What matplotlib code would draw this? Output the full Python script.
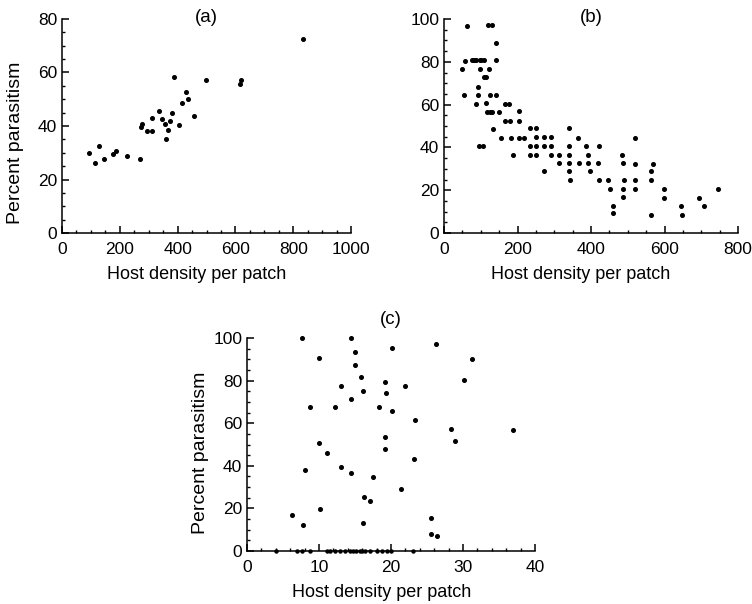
import numpy as np
import matplotlib
matplotlib.use('Agg')
import matplotlib.pyplot as plt
from matplotlib.ticker import MultipleLocator

plt.rcParams['font.family'] = ['Liberation Sans', 'DejaVu Sans']

# panel (a)
a_x = [92, 114, 128, 145, 176, 187, 224, 270, 273, 277, 295, 313, 313, 334, 346,
       358, 360, 366, 374, 381, 386, 406, 415, 429, 435, 456, 497, 617, 620, 835]
a_y = [29.9, 26.2, 32.6, 27.7, 29.7, 30.7, 28.7, 27.7, 39.5, 40.6, 38.3, 38.3, 43, 45.5, 42.6,
       40.7, 35.3, 38.6, 41.7, 44.9, 58.3, 40.5, 48.5, 52.8, 50.1, 43.6, 57.3, 55.7, 57.1, 72.4]

# panel (b)
b_x = [49, 55, 58, 62, 77, 82, 86, 97, 102, 108, 99, 93, 93, 87, 95, 106,
       108, 113, 113, 117, 124, 131, 123, 126, 121, 131, 132, 142, 142, 142,
       151, 155, 165, 177, 165, 179, 183, 189, 203, 203, 203, 219,
       235, 235, 235, 251, 251, 251, 251, 272, 272, 272, 292, 292, 292,
       313, 313, 340, 340, 340, 340, 340, 342, 365, 367, 387, 393, 393, 397,
       419, 423, 423, 445, 453, 459, 460, 484, 486, 488, 488, 490,
       520, 521, 521, 521, 562, 562, 564, 569, 599, 599, 646, 647, 693, 707, 746]
b_y = [76.6, 64.3, 80.4, 96.6, 81, 81, 81, 81, 81, 81, 76.6, 68.2, 64.6, 60.4, 40.5, 40.5,
       72.7, 72.7, 60.7, 56.4, 56.4, 56.4, 76.6, 64.6, 97, 97, 48.6, 89, 81, 64.6,
       56.4, 44.2, 60.4, 60.4, 52.5, 52.5, 44.4, 36.6, 56.9, 52.5, 44.4, 44.4,
       48.9, 40.5, 36.6, 48.9, 44.7, 40.5, 36.6, 44.7, 40.5, 28.8, 44.7, 40.5, 36.6,
       36.6, 32.7, 48.9, 40.5, 36.6, 32.7, 28.8, 24.9, 44.5, 32.7, 40.5, 36.6, 32.7, 28.8,
       32.7, 40.5, 24.9, 24.9, 20.5, 12.6, 9.2, 36.6, 20.4, 32.7, 16.7, 24.9,
       44.4, 32.4, 24.9, 20.4, 28.8, 24.9, 8.6, 32.4, 20.4, 16.5, 12.8, 8.6, 16.5, 12.5, 20.4]

# panel (c)
c_x = [6.2, 7.6, 7.8, 8.1, 8.8, 10.0, 10.0, 10.1, 11.1, 12.2, 13.1, 13.1, 14.4, 14.4,
       14.5, 15.0, 15.0, 15.8, 16.1, 16.2, 16.1, 17.1, 17.5, 18.3, 19.2, 19.3, 19.2,
       19.2, 20.1, 20.2, 21.4, 21.9, 23.2, 23.4, 25.5, 25.5, 26.3, 26.4, 28.3, 28.9,
       30.1, 31.2, 36.9]
c_y = [17.1, 100, 12.4, 38, 67.5, 90.6, 50.9, 19.9, 46, 67.5, 77.6, 39.6, 71.4, 36.7,
       100, 93.2, 87.1, 81.5, 75.2, 25.4, 13.3, 23.5, 34.9, 67.5, 79.4, 74.1, 53.4,
       47.9, 95.1, 65.6, 29.2, 77.6, 43.3, 61.4, 15.7, 8.2, 97, 7.2, 57.1, 51.8,
       80.1, 90.3, 57]
c_zero_x = [4.0, 6.9, 7.7, 8.8, 11.1, 11.5, 12.2, 12.9, 13.6, 14.3, 14.7, 15.1, 15.7,
            16.0, 16.4, 17.1, 18.0, 18.7, 19.4, 20.0, 23.0]

W, H = 752, 604
fig = plt.figure(figsize=(W / 100, H / 100), dpi=100)

TICK_FS = 12.5


def make_ax(l, r, t, b):
    return fig.add_axes([l / W, 1 - b / H, (r - l) / W, (b - t) / H])


def style(ax, xmax, ymax, xmaj, xmin, ymaj, ymin):
    ax.set_xlim(0, xmax)
    ax.set_ylim(0, ymax)
    ax.xaxis.set_major_locator(MultipleLocator(xmaj))
    ax.xaxis.set_minor_locator(MultipleLocator(xmin))
    ax.yaxis.set_major_locator(MultipleLocator(ymaj))
    ax.yaxis.set_minor_locator(MultipleLocator(ymin))
    for s in ['top', 'right']:
        ax.spines[s].set_visible(False)
    for s in ['left', 'bottom']:
        ax.spines[s].set_linewidth(1.1)
    ax.tick_params(which='major', direction='in', length=5, width=1.1, labelsize=TICK_FS)
    ax.tick_params(axis='x', which='major', pad=6.5)
    ax.tick_params(axis='y', which='major', pad=3.5)
    ax.tick_params(which='minor', direction='in', length=2.5, width=1.0)
    ax.set_xlabel('Host density per patch', fontsize=13)
    ax.xaxis.set_label_coords(0.466, -0.155)


def ylab(ax, yc):
    ax.set_ylabel('Percent parasitism', fontsize=14)
    ax.yaxis.set_label_coords(-0.132, yc)


ax_a = make_ax(62, 351, 19, 233)
ax_a.plot(a_x, a_y, 'o', color='black', markersize=2.6, clip_on=False)
style(ax_a, 1000, 80, 200, 50, 20, 5)
ylab(ax_a, 0.42)
ax_a.text(0.5, 1.005, '(a)', transform=ax_a.transAxes, ha='center', va='center', fontsize=13.5)

ax_b = make_ax(444, 738, 19, 233)
ax_b.plot(b_x, b_y, 'o', color='black', markersize=2.6, clip_on=False)
style(ax_b, 800, 100, 200, 50, 20, 5)
ax_b.text(0.5, 1.005, '(b)', transform=ax_b.transAxes, ha='center', va='center', fontsize=13.5)

ax_c = make_ax(247, 535, 338, 551)
ax_c.plot(c_x, c_y, 'o', color='black', markersize=2.6, clip_on=False)
ax_c.plot(c_zero_x, np.zeros(len(c_zero_x)), 'o', color='black', markersize=2.2, clip_on=False)
style(ax_c, 40, 100, 10, 2, 20, 5)
ylab(ax_c, 0.46)
ax_c.text(0.5, 1.085, '(c)', transform=ax_c.transAxes, ha='center', va='center', fontsize=13.5)

fig.savefig('out.png', dpi=100)
